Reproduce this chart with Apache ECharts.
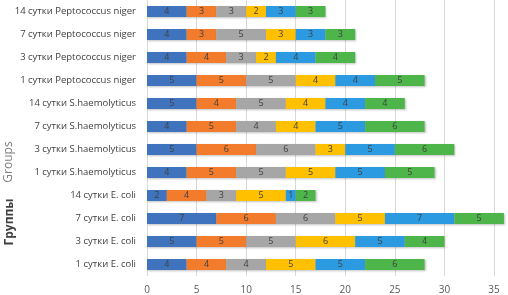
<!DOCTYPE html>
<html>
<head>
<meta charset="utf-8">
<script src="https://cdn.jsdelivr.net/npm/echarts@6/dist/echarts.min.js"></script>
<style>
  html, body { margin: 0; padding: 0; background: #fff; }
  #container { width: 508px; height: 295px; }
</style>
</head>
<body>
<div id="container"></div>
<script>
// categories, bottom to top as on the chart
var categories = [
    '1 сутки E. coli', '3 сутки E. coli', '7 сутки E. coli', '14 сутки E. coli',
    '1 сутки S.haemolyticus', '3 сутки S.haemolyticus', '7 сутки S.haemolyticus', '14 сутки S.haemolyticus',
    '1 сутки Peptococcus niger', '3 сутки Peptococcus niger', '7 сутки Peptococcus niger', '14 сутки Peptococcus niger'
];
var s1 = [4, 5, 7, 2, 4, 5, 4, 5, 5, 4, 4, 4];
var s2 = [4, 5, 6, 4, 5, 6, 5, 4, 5, 4, 3, 3];
var s3 = [4, 5, 6, 3, 5, 6, 4, 5, 5, 3, 5, 3];
var s4 = [5, 6, 5, 5, 5, 3, 4, 4, 4, 2, 3, 2];
var s5 = [5, 5, 7, 1, 5, 5, 5, 4, 4, 4, 3, 3];
var s6 = [6, 4, 5, 2, 5, 6, 6, 4, 5, 4, 3, 3];
var xTicks = [0, 5, 10, 15, 20, 25, 30, 35];

var colors = ['#3F73BD', '#F27B2C', '#A6A6A6', '#FFC000', '#2C9AE0', '#4DB54A'];

var dom = document.getElementById("container");
var myChart = echarts.init(dom);

var series = [s1, s2, s3, s4, s5, s6].map(function (d, i) {
    return {
        type: 'bar',
        stack: 'total',
        barWidth: 11,
        clip: false,
        data: d,
        itemStyle: {
            color: colors[i],
            shadowColor: 'rgba(0,0,0,0.25)',
            shadowBlur: 2,
            shadowOffsetX: 1,
            shadowOffsetY: 1
        },
        label: {
            show: true,
            position: 'inside',
            color: '#404040',
            fontSize: 9,
            fontFamily: 'Open Sans'
        }
    };
});

var option = {
    backgroundColor: '#fff',
    animation: false,
    grid: { left: 147, right: 14, top: -4, bottom: 17 },
    xAxis: {
        type: 'value',
        min: xTicks[0],
        max: xTicks[xTicks.length - 1],
        interval: 5,
        axisLine: { show: false },
        axisTick: { show: false },
        axisLabel: { color: '#595959', fontSize: 10, fontFamily: 'Open Sans', margin: 9 },
        splitLine: { lineStyle: { color: '#d9d9d9', width: 1 } }
    },
    yAxis: {
        type: 'category',
        data: categories,
        axisLine: { show: false },
        axisTick: { show: false },
        axisLabel: { color: '#404040', fontSize: 9.5, fontFamily: 'Open Sans', margin: 11 }
    },
    graphic: [
        {
            type: 'text', x: 9, y: 162, rotation: Math.PI / 2,
            style: { text: 'Groups', fill: '#808080', font: '12px "Open Sans"', textAlign: 'center', textVerticalAlign: 'middle' }
        },
        {
            type: 'text', x: 10, y: 222, rotation: Math.PI / 2,
            style: { text: 'Группы', fill: '#404040', font: 'bold 12px "Open Sans"', textAlign: 'center', textVerticalAlign: 'middle' }
        }
    ],
    series: series
};
myChart.setOption(option, true);
</script>
</body>
</html>
